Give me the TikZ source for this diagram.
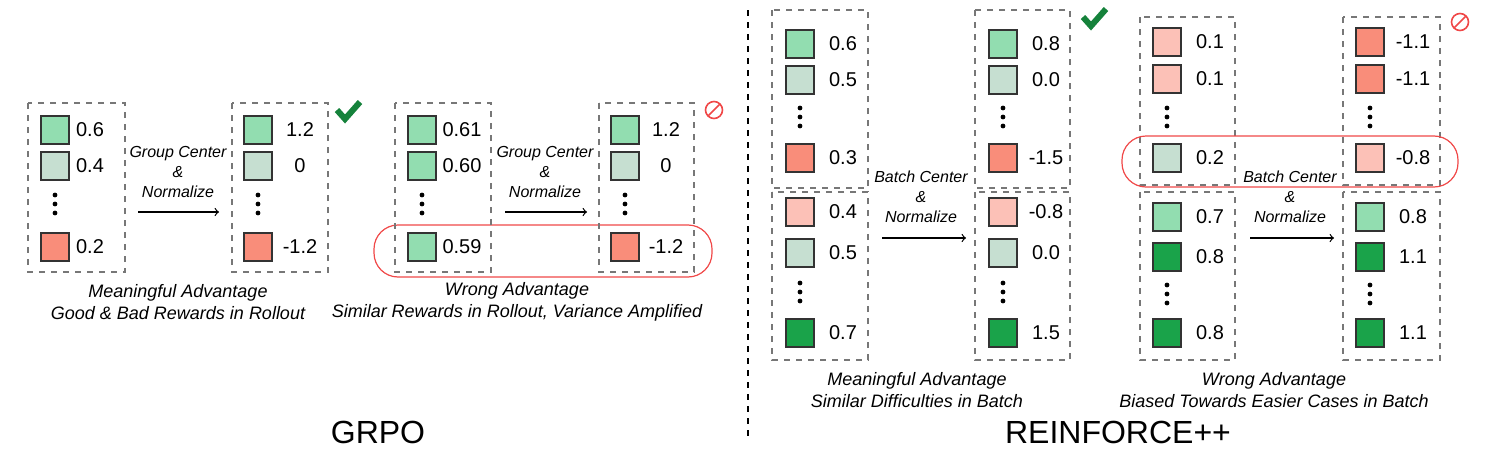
\documentclass[tikz,border=0pt]{standalone}
\usepackage{fontspec}
\setmainfont{Liberation Sans}
\usetikzlibrary{positioning}
\definecolor{advgreen}{HTML}{92DDB0}
\definecolor{advgray}{HTML}{C6DFD1}
\definecolor{advsalmon}{HTML}{F98D7A}
\definecolor{advpink}{HTML}{FCC1B7}
\definecolor{advdark}{HTML}{1AA34A}
\definecolor{boxgray}{HTML}{777777}
\definecolor{warnred}{HTML}{F04848}
\tikzset{
  sq/.style={draw=black!80,line width=0.6pt,minimum size=14pt,inner sep=0pt},
  val/.style={font=\fontsize{10}{12}\selectfont,anchor=center},
  group/.style={draw=boxgray,dashed,line width=0.6pt},
  captext/.style={font=\fontsize{9}{11}\selectfont\itshape,align=center},
  op/.style={font=\fontsize{8}{10}\selectfont\itshape,align=center},
  title/.style={font=\fontsize{16}{18}\selectfont},
}
% square with its value
\newcommand{\cell}[6]{%
  \node[sq,fill=#4] (#1) at (#2,#3) {};
  \node[val] (#1v) at (#6,#3) {#5};}
\newcommand{\dotcol}[2]{%
  \foreach \d in {-9,0,9} \fill (#1,#2+\d) circle (1.2pt);}
\begin{document}
\begin{tikzpicture}[x=0.5pt,y=-0.5pt]
    \useasboundingbox (0,0) rectangle (1495,455);

    % GRPO
    \draw[group] (28,103) rectangle (125,272);
    \cell{a1}{55}{130}{advgreen}{0.6}{90}
    \cell{a2}{55}{166}{advgray}{0.4}{90}
    \dotcol{55}{204}
    \cell{a3}{55}{247}{advsalmon}{0.2}{90}

    \draw[group] (232,103) rectangle (328,272);
    \cell{b1}{258}{130}{advgreen}{1.2}{300}
    \cell{b2}{258}{166}{advgray}{0}{300}
    \dotcol{258}{204}
    \cell{b3}{258}{247}{advsalmon}{-1.2}{300}

    \coordinate (ga) at (138,212);
    \coordinate (gb) at (219,212);
    \draw[->,line width=0.6pt] (ga) -- (gb);
    \node[op] (gop) at (178,172) {Group Center\\\&\\Normalize};

    \draw[warnred,rounded corners=12pt,line width=0.6pt] (374,225) rectangle (712,277);
    \draw[group] (395,103) rectangle (491,272);
    \cell{c1}{422}{130}{advgreen}{0.61}{462}
    \cell{c2}{422}{166}{advgreen}{0.60}{462}
    \dotcol{422}{204}
    \cell{c3}{422}{247}{advgreen}{0.59}{462}

    \draw[group] (599,103) rectangle (694,272);
    \cell{d1}{625}{130}{advgreen}{1.2}{666}
    \cell{d2}{625}{166}{advgray}{0}{666}
    \dotcol{625}{204}
    \cell{d3}{625}{247}{advsalmon}{-1.2}{666}

    \coordinate (gc) at (505,212);
    \coordinate (gd) at (587,212);
    \draw[->,line width=0.6pt] (gc) -- (gd);
    \node[op] (gop2) at (545,172) {Group Center\\\&\\Normalize};

    \draw[advdark!80!black,line width=3pt] (337,110) -- (345,119) -- (360,102);
    \draw[warnred,line width=0.8pt] (714,110) circle (8.5) (708,116) -- (720,104);

    \node[captext] (gcap1) at (178,302) {Meaningful Advantage\\Good \& Bad Rewards in Rollout};
    \node[captext] (gcap2) at (517,302) {Wrong Advantage\\Similar Rewards in Rollout, Variance Amplified};
    \node[title] (grpo) at (378,432) {GRPO};

    \draw[dashed,line width=0.6pt] (748,10) -- (748,440);

    % REINFORCE++
    \draw[group] (772,10) rectangle (868,188);
    \draw[group] (772,192) rectangle (868,360);
    \cell{e1}{800}{44}{advgreen}{0.6}{843}
    \cell{e2}{800}{80}{advgray}{0.5}{843}
    \dotcol{800}{117}
    \cell{e3}{800}{158}{advsalmon}{0.3}{843}
    \cell{e4}{800}{212}{advpink}{0.4}{843}
    \cell{e5}{800}{253}{advgray}{0.5}{843}
    \dotcol{800}{292}
    \cell{e6}{800}{333}{advdark}{0.7}{843}

    \draw[group] (975,10) rectangle (1070,188);
    \draw[group] (975,192) rectangle (1070,360);
    \cell{f1}{1003}{44}{advgreen}{0.8}{1046}
    \cell{f2}{1003}{80}{advgray}{0.0}{1046}
    \dotcol{1003}{117}
    \cell{f3}{1003}{158}{advsalmon}{-1.5}{1046}
    \cell{f4}{1003}{212}{advpink}{-0.8}{1046}
    \cell{f5}{1003}{253}{advgray}{0.0}{1046}
    \dotcol{1003}{292}
    \cell{f6}{1003}{333}{advdark}{1.5}{1046}

    \coordinate (ra) at (882,238);
    \coordinate (rb) at (966,238);
    \draw[->,line width=0.6pt] (ra) -- (rb);
    \node[op] (rop) at (921,197) {Batch Center\\\&\\Normalize};
    \draw[advdark!80!black,line width=3pt] (1083,17) -- (1091,26) -- (1106,9);

    \draw[group] (1140,17) rectangle (1235,185);
    \draw[group] (1140,192) rectangle (1235,360);
    \cell{g1}{1167}{42}{advpink}{0.1}{1210}
    \cell{g2}{1167}{79}{advpink}{0.1}{1210}
    \dotcol{1167}{117}
    \cell{g3}{1167}{158}{advgray}{0.2}{1210}
    \cell{g4}{1167}{217}{advgreen}{0.7}{1210}
    \cell{g5}{1167}{257}{advdark}{0.8}{1210}
    \dotcol{1167}{294}
    \cell{g6}{1167}{333}{advdark}{0.8}{1210}

    \draw[group] (1343,17) rectangle (1440,185);
    \draw[group] (1343,192) rectangle (1440,360);
    \cell{h1}{1370}{42}{advsalmon}{-1.1}{1413}
    \cell{h2}{1370}{79}{advsalmon}{-1.1}{1413}
    \dotcol{1370}{117}
    \cell{h3}{1370}{158}{advpink}{-0.8}{1413}
    \cell{h4}{1370}{217}{advgreen}{0.8}{1413}
    \cell{h5}{1370}{257}{advdark}{1.1}{1413}
    \dotcol{1370}{294}
    \cell{h6}{1370}{333}{advdark}{1.1}{1413}

    \draw[warnred,rounded corners=12pt,line width=0.6pt] (1122,136) rectangle (1458,187);
    \coordinate (rc) at (1250,238);
    \coordinate (rd) at (1334,238);
    \draw[->,line width=0.6pt] (rc) -- (rd);
    \node[op] (rop2) at (1290,197) {Batch Center\\\&\\Normalize};
    \draw[warnred,line width=0.8pt] (1460,22) circle (8.5) (1454,28) -- (1466,16);

    \node[captext] (rcap1) at (917,390) {Meaningful Advantage\\Similar Difficulties in Batch};
    \node[captext] (rcap2) at (1274,390) {Wrong Advantage\\Biased Towards Easier Cases in Batch};
    \node[title] (rpp) at (1118,432) {REINFORCE++};
\end{tikzpicture}
\end{document}
